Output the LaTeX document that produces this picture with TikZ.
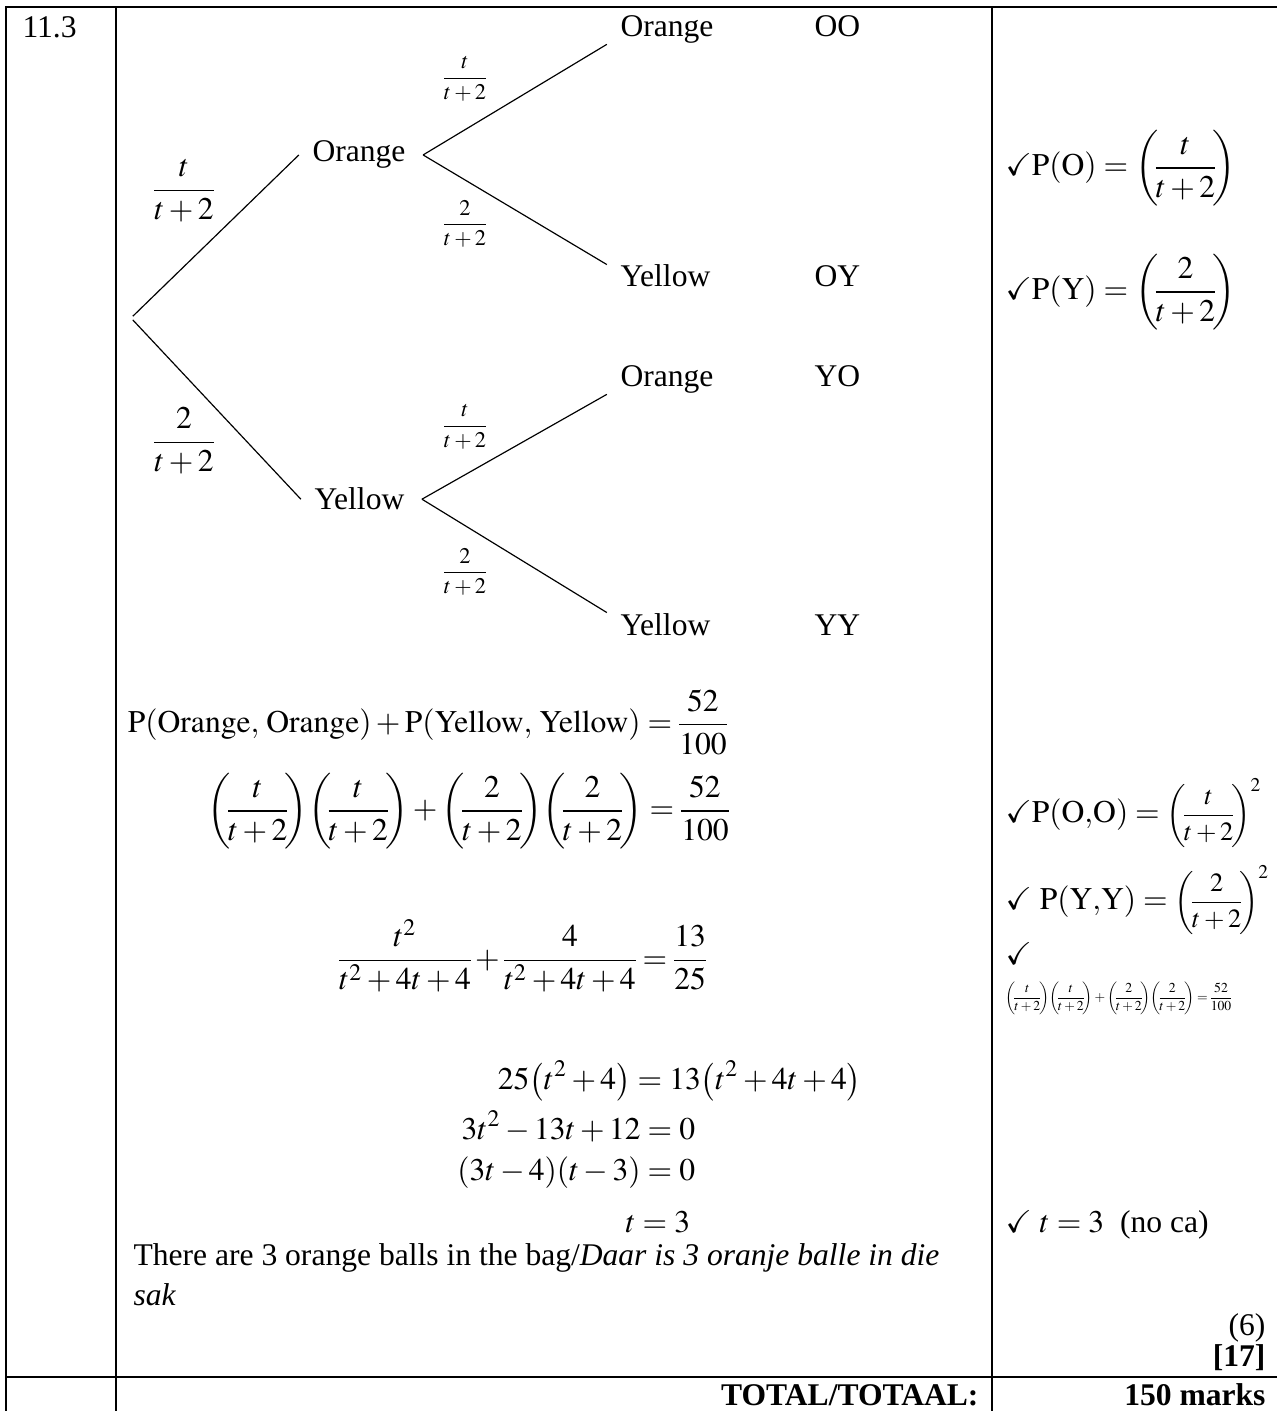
\documentclass[tikz,border=0pt]{standalone}
\usepackage{amsmath}
\usepackage{amssymb}
\usepackage{mathptmx}
\usepackage{fontspec}
\setmainfont{Liberation Serif}
\usetikzlibrary{positioning}

% lhs = rhs, anchored on the "=" sign
\newcommand{\eqat}[2]{\llap{$\displaystyle #1$}$\displaystyle{}={}$\rlap{$\displaystyle #2$}}
\newcommand{\ck}{$\checkmark$}
\newcommand{\pfr}[1]{\left(\mkern-1.5mu\dfrac{#1}{t+2}\mkern-1.5mu\right)}

\begin{document}
\nulldelimiterspace=0pt
\begin{tikzpicture}[
    x=0.38pt, y=-0.38pt,
    every node/.style={font=\fontsize{12}{14}\selectfont, inner sep=0pt},
    tabline/.style={line width=0.8pt},
    branch/.style={line width=0.45pt},
    outcome/.style={anchor=base west},
    prob/.style={anchor=center},
    smallprob/.style={anchor=center, font=\fontsize{8.5}{10}\selectfont},
    eqn/.style={anchor=center},
    markline/.style={anchor=west},
    marktext/.style={anchor=base west},
    total/.style={anchor=base east, font=\fontsize{12}{14}\selectfont\bfseries}
]
\useasboundingbox (0,0) rectangle (1277,1411);

% table
\draw[tabline] (6,1411) -- (6,7) -- (1277,7);
\draw[tabline] (116,7) -- (116,1411);
\draw[tabline] (992,7) -- (992,1411);
\draw[tabline] (6,1377) -- (1277,1377);
\node[marktext] (qnum) at (22,38) {11.3};

% tree diagram
\node (root) at (131,318) {};
\node[outcome] (o1) at (312,162) {Orange};
\node[outcome] (y1) at (314,510) {Yellow};
\node[outcome] (oo) at (620,37) {Orange};
\node[outcome] (oy) at (620,287) {Yellow};
\node[outcome] (yo) at (620,387) {Orange};
\node[outcome] (yy) at (620,635) {Yellow};
\node[outcome] (ooname) at (814,37) {OO};
\node[outcome] (oyname) at (814,287) {OY};
\node[outcome] (yoname) at (814,387) {YO};
\node[outcome] (yyname) at (814,635) {YY};

\draw[branch] (root) -- ([xshift=-5pt]o1.west);
\draw[branch] (root) -- ([xshift=-5pt]y1.west);
\draw[branch] ([xshift=6.5pt]o1.east) -- ([xshift=-5pt]oo.south west);
\draw[branch] ([xshift=6.5pt]o1.east) -- ([xshift=-5pt]oy.north west);
\draw[branch] ([xshift=6.5pt]y1.east) -- ([xshift=-5pt]yo.south west);
\draw[branch] ([xshift=6.5pt]y1.east) -- ([xshift=-5pt]yy.north west);

\node[prob] (po1) at (184,191) {$\dfrac{t}{t+2}$};
\node[prob] (py1) at (184,441) {$\dfrac{2}{t+2}$};
\node[smallprob] (poo) at (465,79) {$\dfrac{t}{t+2}$};
\node[smallprob] (poy) at (465,224) {$\dfrac{2}{t+2}$};
\node[smallprob] (pyo) at (465,427) {$\dfrac{t}{t+2}$};
\node[smallprob] (pyy) at (465,572) {$\dfrac{2}{t+2}$};

% working
\node[eqn] (eq1) at (660,722) {\eqat{\mathrm{P(Orange,\,Orange)}+\mathrm{P(Yellow,\,Yellow)}}{\frac{52}{100}}};
\node[eqn] (eq2) at (662,811) {\eqat{\pfr{t}\!\pfr{t}+\pfr{2}\!\pfr{2}}{\frac{52}{100}}};
\node[eqn] (eq3) at (655,956) {\eqat{\frac{t^2}{t^2+4t+4}+\frac{4}{t^2+4t+4}}{\frac{13}{25}}};
\node[eqn] (eq4) at (650,1081) {\eqat{25\!\left(t^2+4\right)}{13\!\left(t^2+4t+4\right)}};
\node[eqn] (eq5) at (660,1126) {\eqat{3t^2-13t+12}{0}};
\node[eqn] (eq6) at (660,1173) {\eqat{\left(3t-4\right)\!\left(t-3\right)}{0}};
\node[eqn] (eq7) at (655,1222) {\eqat{t}{3}};
\node[marktext] (answer) at (133,1265) {There are 3 orange balls in the bag/\textit{Daar is 3 oranje balle in die}};
\node[marktext] (answer2) at (133,1305) {\textit{sak}};

% marks
\node[markline] (mo) at (1005,168) {\ck$\mathrm{P(O)}=\pfr{t}$};
\node[markline] (my) at (1005,292) {\ck$\mathrm{P(Y)}=\pfr{2}$};
\node[markline] (moo) at (1005,813) {\ck$\mathrm{P(O{,}O)}={}${\fontsize{10}{12}\selectfont$\pfr{t}^{2}$}};
\node[markline] (myy) at (1005,900) {\ck\ $\mathrm{P(Y{,}Y)}={}${\fontsize{10}{12}\selectfont$\pfr{2}^{2}$}};
\node[markline] (mck) at (1005,954) {\ck};
\node[markline, font=\fontsize{5.2}{6}\selectfont] (meq) at (1005,998) {$\displaystyle\pfr{t}\!\pfr{t}+\pfr{2}\!\pfr{2}=\frac{52}{100}$};
\node[markline] (mt) at (1005,1225) {\ck\ $t=3$\ \ (no ca)};
\node[anchor=base east] (msub) at (1266,1335) {(6)};
\node[total] (mtot) at (1266,1366) {[17]};

% total row
\node[total] (totlbl) at (979,1405) {TOTAL/TOTAAL:};
\node[total] (totval) at (1266,1405) {150 marks};
\end{tikzpicture}
\end{document}
